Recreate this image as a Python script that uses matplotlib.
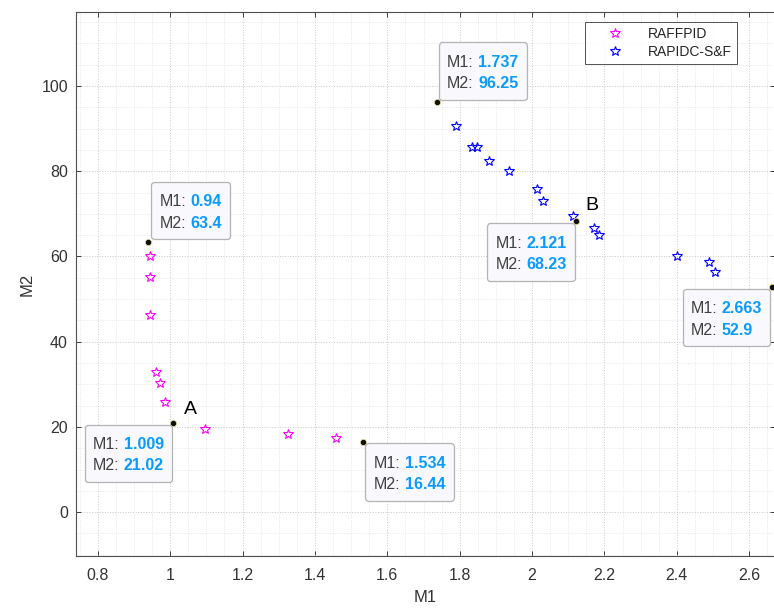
import matplotlib
matplotlib.use('Agg')
import matplotlib.pyplot as plt
from matplotlib.ticker import MultipleLocator
from matplotlib.offsetbox import TextArea, HPacker, VPacker, DrawingArea, AnnotationBbox

# MATLAB-like pareto front plot with data tips

plt.rcParams['font.family'] = ['Liberation Sans', 'DejaVu Sans']

# RAFFPID front (M1, M2), data-tip points listed separately below
raff_m1 = [0.943, 0.944, 0.945, 0.960, 0.972, 0.986, 1.097, 1.326, 1.459]
raff_m2 = [60.0, 55.1, 46.3, 32.9, 30.4, 25.9, 19.4, 18.3, 17.3]

# RAPIDC-S&F front (M1, M2)
rapid_m1 = [1.791, 1.833, 1.848, 1.880, 1.937, 2.015, 2.031, 2.112,
            2.170, 2.186, 2.401, 2.489, 2.505]
rapid_m2 = [90.7, 85.8, 85.8, 82.3, 80.1, 75.9, 73.0, 69.6,
            66.7, 65.0, 60.0, 58.6, 56.4]

# data tips
tip_m1 = [0.94, 1.009, 1.534, 1.737, 2.121, 2.663]
tip_m2 = [63.4, 21.02, 16.44, 96.25, 68.23, 52.9]

# point labels
label_text = ['A', 'B']
label_m1 = [1.055, 2.166]
label_m2 = [24.0, 72.0]

# where each tip box sits relative to its point: (box alignment, offset in px)
tip_place = [((0, 0), (3, 2.5)),
             ((1, 1), (-1, -2)),
             ((0, 1), (2, -1)),
             ((0, 0), (2, 2)),
             ((1, 1), (-1, -2)),
             ((1, 1), (-1.5, -2))]

W, H = 774, 608
fig = plt.figure(figsize=(W / 100, H / 100), dpi=100)
left, right, top, bottom = 76.3, 774.5, 12.3, 556
ax = fig.add_axes([left / W, (H - bottom) / H, (right - left) / W, (bottom - top) / H])

ax.plot(raff_m1, raff_m2, linestyle='none', marker='*', markersize=7.5,
        markerfacecolor='none', markeredgecolor='#ff00ff', markeredgewidth=0.8,
        label='RAFFPID')
ax.plot(rapid_m1, rapid_m2, linestyle='none', marker='*', markersize=7.5,
        markerfacecolor='none', markeredgecolor='#0000ff', markeredgewidth=0.8,
        label='RAPIDC-S&F')

ax.set_xlim(0.7405, 2.67)
ax.set_ylim(-10.3, 117.3)

ax.xaxis.set_major_locator(MultipleLocator(0.2))
ax.xaxis.set_minor_locator(MultipleLocator(0.05))
ax.yaxis.set_major_locator(MultipleLocator(20))
ax.yaxis.set_minor_locator(MultipleLocator(5))
ax.xaxis.set_major_formatter(plt.FuncFormatter(lambda v, p: f'{v:g}'))

ax.grid(True, which='major', linestyle=':', linewidth=0.7, color='#c8c8c8')
ax.grid(True, which='minor', linestyle=':', linewidth=0.6, color='#e0e0e0')
ax.set_axisbelow(True)

ax.tick_params(which='major', direction='in', length=3.8, width=0.7,
               top=True, right=True, color='#404040', labelcolor='#333333',
               labelsize=11.5)
ax.tick_params(axis='x', which='major', pad=8.5)
ax.tick_params(axis='y', which='major', pad=6)
ax.tick_params(which='minor', length=0, top=True, right=True)
for sp in ax.spines.values():
    sp.set_color('#505050')
    sp.set_linewidth(0.8)

ax.set_xlabel('M1', fontsize=12, color='#333333', labelpad=5)
ax.set_ylabel('M2', fontsize=12, color='#333333', labelpad=5)

leg = ax.legend(loc='upper right', bbox_to_anchor=(0.946, 0.982), fontsize=10,
                frameon=True, fancybox=False, edgecolor='#262626',
                handlelength=3.6, handletextpad=0.6, borderpad=0.35,
                labelspacing=0.28, borderaxespad=0)
leg.get_frame().set_linewidth(0.7)
for t in leg.get_texts():
    t.set_color('#262626')

# data tips: black dot plus boxed text
ax.plot(tip_m1, tip_m2, linestyle='none', marker='o', markersize=4.5,
        markerfacecolor='#111111', markeredgecolor='#e8e0a0', markeredgewidth=0.5,
        clip_on=False, zorder=5)

fs = 11.5
for m1, m2, (align, off) in zip(tip_m1, tip_m2, tip_place):
    rows = []
    for name, val in (('M1:', m1), ('M2:', m2)):
        key = TextArea(name, textprops=dict(color='#404040', fontsize=fs))
        num = TextArea(f'{val:.4g}', textprops=dict(color='#0a9bff', fontsize=fs,
                                                   fontweight='bold'))
        rows.append(HPacker(children=[key, num], sep=3.0, pad=0, align='baseline'))
    inner = VPacker(children=rows, sep=4.4, pad=0, align='left')
    box = VPacker(children=[DrawingArea(1, 3.2), inner, DrawingArea(1, 0.4)],
                  sep=0, pad=6.0, align='left')
    ab = AnnotationBbox(box, (m1, m2), xybox=(off[0] * 0.72, off[1] * 0.72),
                        xycoords='data', boxcoords='offset points',
                        box_alignment=align, pad=0, frameon=True,
                        bboxprops=dict(boxstyle='round,pad=0,rounding_size=0.25',
                                       facecolor='#f8f8fd', edgecolor='#b4b4b4',
                                       linewidth=0.9),
                        annotation_clip=False, zorder=6)
    ax.add_artist(ab)

for txt, x, y in zip(label_text, label_m1, label_m2):
    ax.text(x, y, txt, fontsize=14, color='black', ha='center', va='center')

fig.savefig('out.png', dpi=100)
